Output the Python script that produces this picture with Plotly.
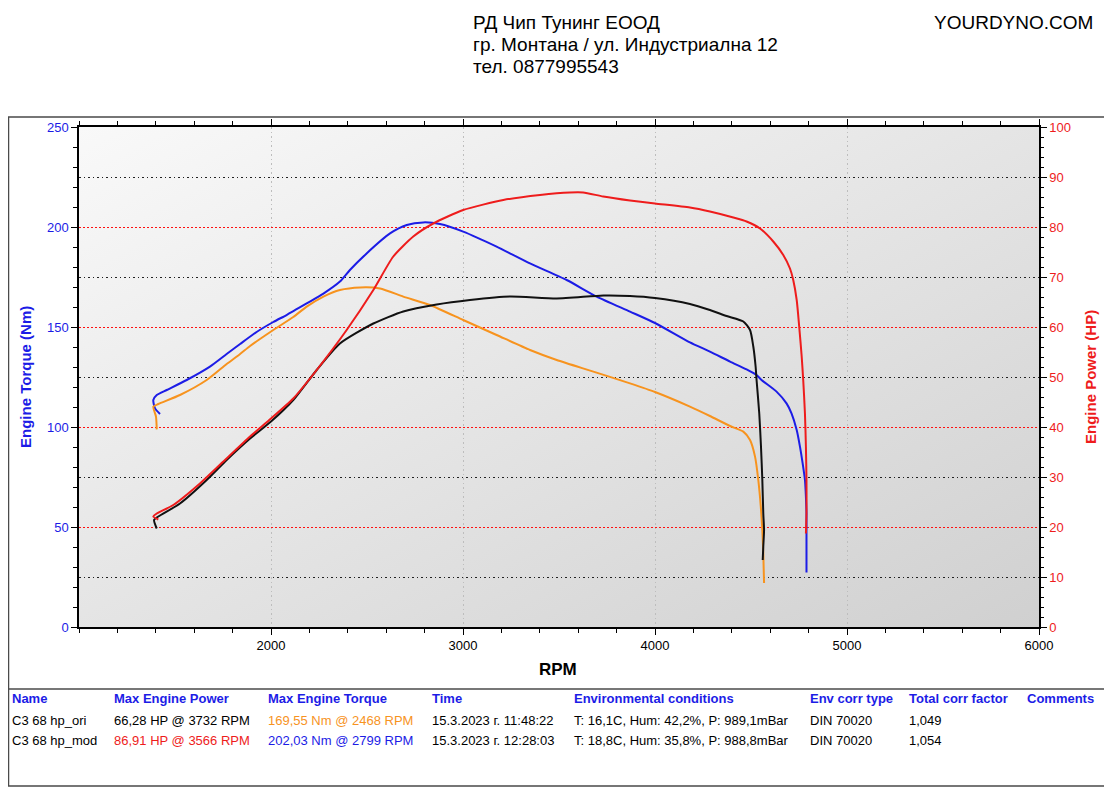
import base64
import plotly.graph_objects as go

# --- dyno run data ---
mod_torque_rpm = [1422, 1396, 1387, 1405, 1457, 1561, 1682, 1769, 1839, 1925, 2012, 2081, 2186, 2273,
                  2359, 2411, 2498, 2620, 2707, 2793, 2880, 3001, 3175, 3349, 3540, 3696, 3870, 4000,
                  4182, 4286, 4391, 4477, 4529, 4555, 4633, 4685, 4711, 4738, 4755, 4769, 4781, 4786,
                  4789, 4789, 4789, 4789]
mod_torque_nm = [106.5, 109.3, 113.5, 116, 118.5, 123.5, 130.2, 136.5, 141.5, 147.5, 152.5, 156, 161.8, 166.7,
                 172.7, 178.5, 186.8, 196.8, 201, 202.3, 201.5, 197.7, 190.2, 181.8, 173.5, 165.2, 157.7, 152,
                 142.3, 137.7, 132.7, 128.8, 126, 123.5, 117.7, 111.8, 106.8, 98.5, 90.2, 81.8, 73.5, 65.2,
                 56.8, 45.2, 36.8, 27.2]

ori_torque_rpm = [1405, 1401, 1387, 1413, 1526, 1665, 1769, 1839, 1891, 2012, 2116, 2186, 2273, 2359,
                  2464, 2568, 2689, 2828, 3001, 3175, 3349, 3488, 3679, 3870, 4000, 4182, 4286, 4391,
                  4460, 4495, 4521, 4538, 4551, 4559, 4564, 4568]
ori_torque_nm = [98.8, 105.2, 110.2, 111.5, 116, 123.5, 131.5, 136.5, 140.5, 148.5, 155, 160.2, 165.2, 168.5,
                 169.8, 169.3, 165.2, 161, 153.5, 146, 138.5, 133.5, 127.7, 121.8, 117.5, 110.2, 105.5, 100.5,
                 97.7, 93.5, 85.2, 73.5, 60.2, 48.5, 36.8, 22]

mod_power_rpm = [1413, 1387, 1405, 1491, 1630, 1752, 1891, 2000, 2116, 2238, 2394, 2533, 2637, 2741,
                 2845, 3001, 3210, 3401, 3557, 3626, 3730, 3870, 4000, 4182, 4286, 4408, 4477, 4547,
                 4616, 4668, 4703, 4720, 4738, 4751, 4764, 4772, 4781, 4786, 4789, 4789, 4786]
mod_power_hp = [21.5, 22.1, 22.7, 24.4, 28.7, 33.1, 38.1, 41.7, 45.7, 51.4, 59.4, 67.4, 74.1, 78.1,
                80.7, 83.4, 85.4, 86.4, 86.9, 86.9, 86.1, 85.3, 84.7, 83.9, 83.1, 81.9, 81.1, 79.7,
                77.1, 74.4, 71.7, 69.4, 65.4, 60.1, 54.1, 49.4, 42.7, 36.1, 29.4, 22.7, 18.7]

ori_power_rpm = [1405, 1391, 1413, 1526, 1665, 1769, 1891, 2000, 2116, 2238, 2359, 2533, 2689, 2863,
                 3036, 3245, 3488, 3732, 3870, 4000, 4182, 4286, 4373, 4460, 4495, 4512, 4524, 4529,
                 4543, 4552, 4559, 4564, 4568, 4564, 4561]
ori_power_hp = [19.7, 21.4, 22.1, 24.7, 29.4, 33.4, 37.7, 41.1, 45.4, 51.4, 56.7, 60.7, 63.1, 64.5,
                65.4, 66.1, 65.7, 66.3, 66.2, 65.8, 64.6, 63.4, 62.2, 61.1, 59.4, 56.1, 52.1, 49.4,
                42.7, 36.1, 29.4, 22.7, 19.4, 16.1, 13.4]

# results table
table_headers = ["Name", "Max Engine Power", "Max Engine Torque", "Time", "Environmental conditions",
                 "Env corr type", "Total corr factor", "Comments"]
run_names = ["C3 68 hp_ori", "C3 68 hp_mod"]
max_power = ["66,28 HP @ 3732 RPM", "86,91 HP @ 3566 RPM"]
max_torque = ["169,55 Nm @ 2468 RPM", "202,03 Nm @ 2799 RPM"]
run_times = ["15.3.2023 г. 11:48:22", "15.3.2023 г. 12:28:03"]
env_conditions = ["T: 16,1C, Hum: 42,2%, P: 989,1mBar", "T: 18,8C, Hum: 35,8%, P: 988,8mBar"]
corr_types = ["DIN 70020", "DIN 70020"]
corr_factors = ["1,049", "1,054"]

header_lines = ["РД Чип Тунинг ЕООД", "гр. Монтана / ул. Индустриална 12", "тел. 0877995543"]

BLUE = "#1c1ce6"
RED = "#ee1c1c"
ORANGE = "#f7931e"
BLACK = "#111111"
FONT = "Liberation Sans, Arial, sans-serif"

# page is drawn with an 8px body margin; plot area on the page: x 79..1039, y 127..627
def px(x):
    return (x - 79) / 960

def py(y):
    return (627 - y) / 500


line_shape = dict(width=2, shape="spline", smoothing=0.6)

fig = go.Figure()
fig.add_trace(go.Scatter(x=mod_torque_rpm, y=mod_torque_nm, mode="lines", line=dict(color=BLUE, **line_shape),
                         name="mod torque"))
fig.add_trace(go.Scatter(x=ori_torque_rpm, y=ori_torque_nm, mode="lines", line=dict(color=ORANGE, **line_shape),
                         name="ori torque"))
fig.add_trace(go.Scatter(x=ori_power_rpm, y=ori_power_hp, mode="lines", line=dict(color=BLACK, **line_shape),
                         name="ori power", yaxis="y2"))
# y3 has the same 0..100 HP scale as y2, it only carries the black dotted grid
fig.add_trace(go.Scatter(x=mod_power_rpm, y=mod_power_hp, mode="lines", line=dict(color=RED, **line_shape),
                         name="mod power", yaxis="y3"))

# gradient background of the plot area
svg = ('<svg xmlns="http://www.w3.org/2000/svg" width="960" height="500" preserveAspectRatio="none">'
       '<defs><linearGradient id="g" x1="0" y1="0" x2="1" y2="1">'
       '<stop offset="0" stop-color="#f9f9f9"/><stop offset="1" stop-color="#d0d0d0"/>'
       '</linearGradient></defs><rect width="960" height="500" fill="url(#g)"/></svg>')
bg_src = "data:image/svg+xml;base64," + base64.b64encode(svg.encode()).decode()

annotations = []
for i, line in enumerate(header_lines):
    annotations.append(dict(x=px(471), y=py(22 + i * 22.5), text=line, xanchor="left", yanchor="middle",
                            font=dict(size=19, color="black")))
annotations.append(dict(x=px(1095), y=py(22), text="YOURDYNO.COM", xanchor="right", yanchor="middle",
                        font=dict(size=19, color="black")))

# axis titles
annotations.append(dict(x=px(25), y=py(377), text="<b>Engine Torque (Nm)</b>", textangle=-90,
                        xanchor="center", yanchor="middle", font=dict(size=15, color=BLUE)))
annotations.append(dict(x=px(1090), y=py(377), text="<b>Engine Power (HP)</b>", textangle=-90,
                        xanchor="center", yanchor="middle", font=dict(size=15, color=RED)))
annotations.append(dict(x=px(558), y=py(669), text="<b>RPM</b>", xanchor="center", yanchor="middle",
                        font=dict(size=17, color="black")))

# results table
col_x = [10, 112, 266, 430, 572, 808, 907, 1025]
for cx, head in zip(col_x, table_headers):
    annotations.append(dict(x=px(cx), y=py(698), text="<b>" + head + "</b>", xanchor="left",
                            yanchor="middle", font=dict(size=13, color=BLUE)))
power_colors = ["black", RED]
torque_colors = [ORANGE, BLUE]
for r in range(2):
    row = [run_names[r], max_power[r], max_torque[r], run_times[r], env_conditions[r],
           corr_types[r], corr_factors[r]]
    colors = ["black", power_colors[r], torque_colors[r], "black", "black", "black", "black"]
    for cx, txt, col in zip(col_x, row, colors):
        annotations.append(dict(x=px(cx), y=py(720 + r * 20), text=txt, xanchor="left",
                                yanchor="middle", font=dict(size=13, color=col)))
for a in annotations:
    a.update(xref="paper", yref="paper", showarrow=False)

frame = dict(color="#4a4a4a", width=1.5)
shapes = [
    dict(type="rect", xref="paper", yref="paper", x0=px(8.5), x1=px(1108), y0=py(117), y1=py(786),
         line=frame),
    dict(type="line", xref="paper", yref="paper", x0=px(8.5), x1=px(1108), y0=py(689), y1=py(689),
         line=frame),
]

fig.update_layout(
    width=1104, height=786,
    margin=dict(l=71, r=73, t=119, b=167, pad=0),
    paper_bgcolor="white",
    plot_bgcolor="#e4e4e4",
    showlegend=False,
    font=dict(family=FONT, size=13, color="black"),
    images=[dict(source=bg_src, xref="paper", yref="paper", x=0, y=1, sizex=1, sizey=1,
                 xanchor="left", yanchor="top", sizing="stretch", layer="below")],
    annotations=annotations,
    shapes=shapes,
    xaxis=dict(range=[1000, 6000], tickmode="array", tickvals=[2000, 3000, 4000, 5000, 6000],
               ticks="outside", ticklen=6, tickcolor="black", showline=True, linecolor="black",
               linewidth=1.5, mirror="ticks", showgrid=True, gridcolor="#bdbdbd", griddash="1.5px,3px",
               zeroline=False, tickfont=dict(size=13, color="black"),
               minor=dict(tick0=1000, dtick=200, ticks="outside", ticklen=4, tickcolor="black")),
    yaxis=dict(range=[0, 250], dtick=50, ticks="outside", ticklen=6, tickcolor="black",
               showline=True, linecolor="black", linewidth=1.5, showgrid=True,
               gridcolor="#ff1010", griddash="1.5px,2.5px", gridwidth=1, zeroline=False,
               tickfont=dict(size=13, color=BLUE),
               minor=dict(dtick=10, ticks="outside", ticklen=4, tickcolor="black")),
    yaxis2=dict(range=[0, 100], overlaying="y", side="right", tickmode="array",
                tickvals=list(range(0, 101, 10)), ticks="outside", ticklen=6, tickcolor="black",
                showline=True, linecolor="black", linewidth=1.5, showgrid=False, zeroline=False,
                tickfont=dict(size=13, color=RED),
                minor=dict(dtick=2, ticks="outside", ticklen=3, tickcolor="black")),
    yaxis3=dict(range=[0, 100], overlaying="y", side="right", tickmode="array",
                tickvals=[10, 30, 50, 70, 90], showticklabels=False, ticks="", showline=False,
                showgrid=True, gridcolor="#222222", griddash="1.5px,3px", gridwidth=1, zeroline=False),
)

fig.write_html("out.html")
